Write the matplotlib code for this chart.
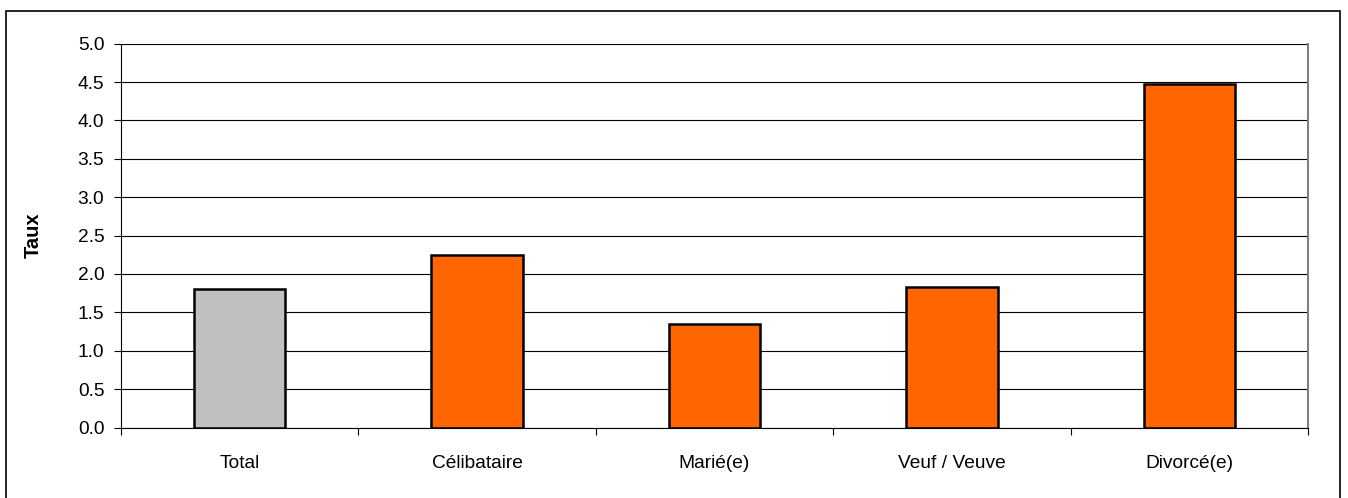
#!/usr/bin/env python3
"""
Bar chart of rates by marital status.
"""
import matplotlib
matplotlib.use('Agg')
import matplotlib.pyplot as plt
from matplotlib.patches import Rectangle
from matplotlib.ticker import FixedLocator, MultipleLocator

categories = ['Total', 'Célibataire', 'Marié(e)', 'Veuf / Veuve', 'Divorcé(e)']
values = [1.80, 2.25, 1.35, 1.83, 4.48]
colors = ['#C0C0C0', '#FF6600', '#FF6600', '#FF6600', '#FF6600']
y_label = 'Taux'

plt.rcParams['font.family'] = ['Liberation Sans', 'DejaVu Sans']

W, H = 1348, 498
fig = plt.figure(figsize=(W / 100, H / 100), dpi=100)

# outer chart frame (bottom edge falls just outside the picture)
fig.patches.append(Rectangle((5.5 / W, -2 / H), 1334 / W, (H - 9) / H,
                             transform=fig.transFigure, fill=False,
                             edgecolor='black', linewidth=1.2))

ax = fig.add_axes([121 / W, 1 - 427.5 / H, (1308 - 121) / W, (427.5 - 43.7) / H])

x = range(len(categories))
ax.bar(x, values, width=0.385, color=colors, edgecolor='black',
       linewidth=1.8, zorder=3)

ax.set_xlim(-0.5, len(categories) - 0.5)
ax.set_ylim(0, 5.0)
ax.yaxis.set_major_locator(MultipleLocator(0.5))
ax.yaxis.set_major_formatter(matplotlib.ticker.FormatStrFormatter('%.1f'))
ax.grid(axis='y', color='black', linewidth=0.8, zorder=0)

ax.set_xticks(list(x))
ax.set_xticklabels(categories)
ax.xaxis.set_minor_locator(FixedLocator([i - 0.5 for i in range(len(categories) + 1)]))
ax.tick_params(axis='x', which='major', length=0, pad=20, labelsize=13.8)
ax.tick_params(axis='x', which='minor', length=5, width=0.8, direction='out')
ax.tick_params(axis='y', length=5, width=0.8, direction='out', pad=7,
               labelsize=13.8)

ax.spines['top'].set_visible(False)
ax.spines['right'].set_color('#808080')
ax.spines['right'].set_linewidth(1.5)
for s in ('left', 'bottom'):
    ax.spines[s].set_linewidth(0.8)

ax.set_ylabel(y_label, fontsize=14.5, fontweight='bold', labelpad=25)

fig.savefig('out.png', dpi=100)
